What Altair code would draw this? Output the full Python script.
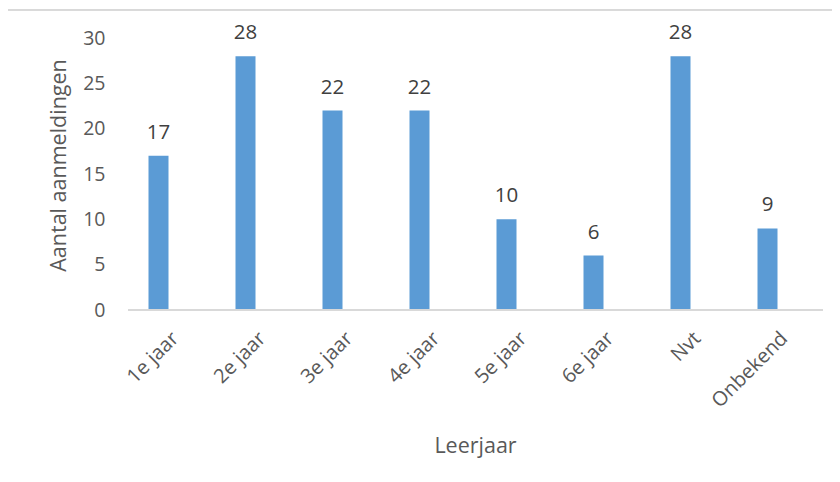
import altair as alt
import pandas as pd

categories = ["1e jaar", "2e jaar", "3e jaar", "4e jaar", "5e jaar", "6e jaar", "Nvt", "Onbekend"]
values = [17, 28, 22, 22, 10, 6, 28, 9]

df = pd.DataFrame({"Leerjaar": categories, "Aantal": values})

W, H = 696, 272
FONT = "Open Sans"
GREY = "#595959"
LINE = "#D9D9D9"

x = alt.X(
    "Leerjaar:N",
    sort=categories,
    scale=alt.Scale(paddingInner=0, paddingOuter=0),
    axis=alt.Axis(
        title="Leerjaar",
        labelAngle=-45,
        labelAlign="right",
        labelBaseline="middle",
        labelPadding=25,
        labelOffset=17,
        labelFontSize=20,
        labelColor=GREY,
        labelFont=FONT,
        domain=False,
        ticks=False,
        titleFont=FONT,
        titleFontSize=21.5,
        titleFontWeight="normal",
        titleColor=GREY,
        titleX=360,
        titleY=142,
        titleAlign="center",
        titleBaseline="alphabetic",
    ),
)
y = alt.Y(
    "Aantal:Q",
    scale=alt.Scale(domain=[0, 30], nice=False),
    axis=alt.Axis(
        title="Aantal aanmeldingen",
        values=[0, 5, 10, 15, 20, 25, 30],
        grid=False,
        domain=False,
        ticks=False,
        labelPadding=10,
        labelFontSize=19.5,
        labelColor=GREY,
        labelFont=FONT,
        titleFont=FONT,
        titleFontSize=21.5,
        titleFontWeight="normal",
        titleColor=GREY,
        titleAngle=270,
        titleX=-50,
        titleY=127,
        titleAlign="center",
        titleBaseline="alphabetic",
    ),
)

base = alt.Chart(df)

bars = base.mark_bar(size=20, color="#5B9BD5").encode(x=x, y=y)

labels = base.mark_text(
    baseline="alphabetic", dy=-17, fontSize=20.5, font=FONT, color="#404040"
).encode(x=x, y=y, text="Aantal:Q")

baseline = alt.Chart(df).mark_rule(color=LINE, strokeWidth=1.5).encode(
    x=alt.value(13), x2=alt.value(708), y=alt.value(H)
)
border_top = alt.Chart(df).mark_rule(color=LINE, strokeWidth=1).encode(
    x=alt.value(-108), x2=alt.value(730), y=alt.value(-28)
)
border_left = alt.Chart(df).mark_rule(color=LINE, strokeWidth=1).encode(
    x=alt.value(-108), y=alt.value(-28), y2=alt.value(450)
)

chart = (
    alt.layer(border_top, border_left, bars, baseline, labels)
    .properties(
        width=W,
        height=H,
        autosize=alt.AutoSizeParams(type="none"),
        padding={"left": 107, "top": 30, "right": 21, "bottom": 164},
        background="white",
    )
    .configure_view(stroke=None)
)

chart.save("out.html", embed_options={"renderer": "svg", "actions": False})
